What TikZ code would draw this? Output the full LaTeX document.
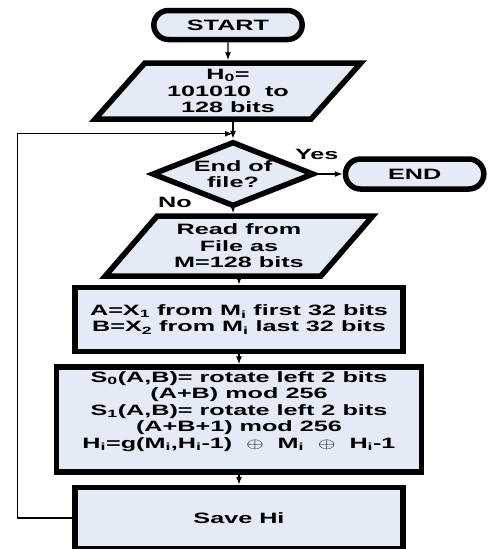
\documentclass[tikz,border=0pt]{standalone}
\usepackage{fontspec}
\setmainfont{Liberation Sans}[FakeStretch=1.68]
\usetikzlibrary{shapes.geometric, shapes.misc, arrows.meta, positioning}
\definecolor{boxfill}{RGB}{228,234,246}
\newcommand{\xorop}{\scalebox{1.55}[1]{$\oplus$}}
\tikzset{
  terminal/.style={rounded rectangle, minimum height=29pt, align=center, draw=black, fill=boxfill, font=\bfseries\fontsize{15}{16.5}\selectfont, line width=5.5pt},
  dataio/.style={trapezium, trapezium stretches=true, align=center, draw=black, fill=boxfill, font=\bfseries\fontsize{15}{16.5}\selectfont, line width=5.5pt, inner sep=0pt},
  decision/.style={diamond, aspect=2.3, inner sep=0pt, align=center, draw=black, fill=boxfill, font=\bfseries\fontsize{15}{16.5}\selectfont, line width=5.5pt},
  process/.style={rectangle, align=center, draw=black, fill=boxfill, font=\bfseries\fontsize{15}{16.5}\selectfont, line width=5.5pt},
  lbl/.style={inner sep=1pt, font=\bfseries\fontsize{15}{16.5}\selectfont},
  arrow/.style={-{Latex[length=8pt,width=6pt]}, line width=1.3pt},
}
\begin{document}
\begin{tikzpicture}
\useasboundingbox (0pt,0pt) rectangle (494pt,-549pt);
\node (start)  [terminal, minimum width=155pt] at (228pt,-25pt) {START};
\node (init)   [dataio, minimum width=266pt, minimum height=56pt, trapezium left angle=50, trapezium right angle=130, below=18pt of start] {H\textsubscript{0}=\\101010\ \ to\\128 bits};
\node (decide) [decision, minimum width=162pt, minimum height=65pt, below=17pt of init, xshift=5pt] {End of\\file?};
\node (stop)   [terminal, minimum width=145pt, minimum height=30pt, right=26pt of decide] {END};
\node (read)   [dataio, minimum width=268pt, minimum height=60pt, trapezium left angle=47, trapezium right angle=133, below=4pt of decide, xshift=6pt] {Read from\\File as\\M=128 bits};
\node (split)  [process, minimum width=328pt, minimum height=64pt, below=6pt of read] {A=X\textsubscript{1} from M\textsubscript{i} first 32 bits\\B=X\textsubscript{2} from M\textsubscript{i} last 32 bits};
% text sits high in this box
\node (mix)    [process, minimum width=365pt, minimum height=105pt, below=10pt of split] {S\textsubscript{0}(A,B)= rotate left 2 bits\\(A+B) mod 256\\S\textsubscript{1}(A,B)= rotate left 2 bits\\(A+B+1) mod 256\\H\textsubscript{i}=g(M\textsubscript{i},H\textsubscript{i}-1) \ \xorop\ \ M\textsubscript{i} \ \xorop\ \ H\textsubscript{i}-1\\[3pt]\mbox{}};
\node (save)   [process, minimum width=328pt, minimum height=61pt, below=10pt of mix] {Save Hi};
\node (yes)    [lbl, above=13pt of decide.east] {Yes};
\node (no)     [lbl, above left=0pt and 40pt of decide.south] {No};
\coordinate [above=5pt of decide.north] (join);
\draw[arrow] (start) -- (init);
\draw[arrow] (decide.north |- init.south) -- (decide.north);
\draw[arrow] (decide.east) -- (stop.west);
\draw[arrow] (decide.south) -- (decide.south |- read.north);
\draw[arrow] (split.north |- read.south) -- (split.north);
\draw[arrow] (split) -- (mix);
\draw[arrow] (mix) -- (save);
\draw[arrow] (save.west) -- ++(-55pt,0) |- (join);
\end{tikzpicture}
\end{document}
